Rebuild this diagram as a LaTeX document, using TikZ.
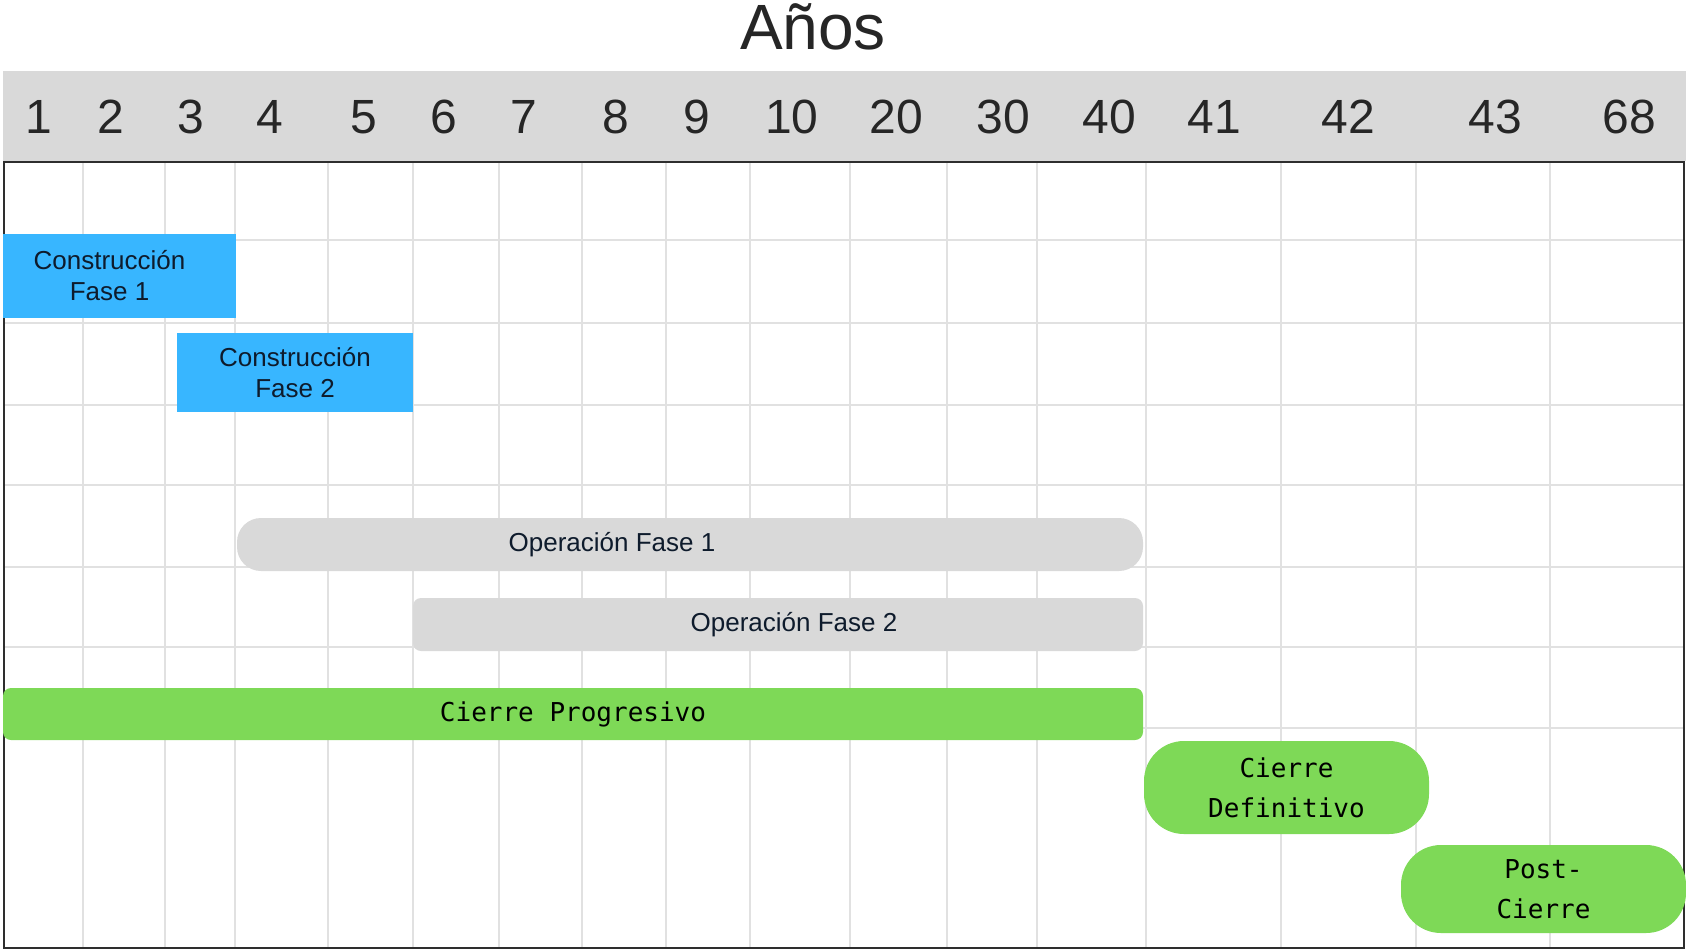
\documentclass[tikz,border=0pt]{standalone}
\usepackage{fontspec}
\setmainfont{Liberation Sans}
\newfontfamily\barmono{DejaVu Sans Mono}
\usetikzlibrary{fit}
\definecolor{headgray}{HTML}{D9D9D9}
\definecolor{gridgray}{HTML}{E1E1E1}
\definecolor{framedark}{HTML}{2E2E2E}
\definecolor{numtext}{HTML}{262626}
\definecolor{lbltext}{HTML}{0E1B2C}
\definecolor{constfill}{HTML}{38B6FF}
\definecolor{opfill}{HTML}{D9D9D9}
\definecolor{closefill}{HTML}{7ED957}
\tikzset{
  gridline/.style={draw=gridgray, line width=1.5pt},
  yearlbl/.style={anchor=base, text=numtext, inner sep=0pt, font=\fontsize{36}{40}\selectfont},
  phasebar/.style={inner sep=0pt, draw=none},
  phasetxt/.style={inner sep=0pt, align=center, text=lbltext, font=\fontsize{19.5}{23.25}\selectfont},
  closetxt/.style={inner sep=0pt, align=center, text=black, font=\barmono\fontsize{19.5}{30}\selectfont},
  constbar/.style={phasebar, fill=constfill},
  opbar/.style={phasebar, fill=opfill, rounded corners=#1},
  opbar/.default=6pt,
  closebar/.style={phasebar, fill=closefill, rounded corners=#1},
  closebar/.default=6pt,
}

\begin{document}
\begin{tikzpicture}[x=0.75pt, y=-0.75pt]
  \useasboundingbox (0,0) rectangle (1686,951);
  \node[anchor=base, inner sep=0pt, text=numtext, font=\fontsize{48}{52}\selectfont] (title) at (813,49) {Años};
  \fill[headgray] (3,71) rectangle (1686,161);
  \foreach \x/\n in {39/1,111/2,191/3,270/4,364/5,444/6,524/7,616/8,697/9,792/10,896/20,1003/30,1109/40,1214/41,1348/42,1495/43,1629/68}
    \node[yearlbl] (yr\n) at (\x,133) {\n};
  \foreach \x in {83,165,235,328,413,499,582,666,750,850,947,1037,1146,1281,1416,1550}
    \draw[gridline] (\x,162) -- (\x,948);
  \foreach \y in {240,323,405,485,567,647,728}
    \draw[gridline] (4,\y) -- (1684,\y);
  \draw[framedark, line width=1.5pt] (4,162) rectangle (1684,948);
  \node[constbar, fit={(3,234) (236,318)}, label={[phasetxt, xshift=-7.5pt]center:Construcción\\Fase 1}] (cons1) {};
  \node[constbar, fit={(177,333) (413,412)}, label={[phasetxt]center:Construcción\\Fase 2}] (cons2) {};
  \node[opbar=18pt, fit={(237,518) (1143,571)}, label={[phasetxt, xshift=-58.5pt]center:Operación Fase 1}] (oper1) {};
  \node[opbar, fit={(413,598) (1143,651)}, label={[phasetxt, xshift=12pt]center:Operación Fase 2}] (oper2) {};
  \node[closebar, fit={(3,688) (1143,740)}, label={[closetxt]center:Cierre Progresivo}] (cprog) {};
  \node[closebar=30pt, fit={(1144,741) (1429,834)}, label={[closetxt]center:Cierre\\Definitivo}] (cdef) {};
  \node[closebar=30pt, fit={(1401,845) (1686,933)}, label={[closetxt]center:Post-\\Cierre}] (cpost) {};
\end{tikzpicture}
\end{document}
